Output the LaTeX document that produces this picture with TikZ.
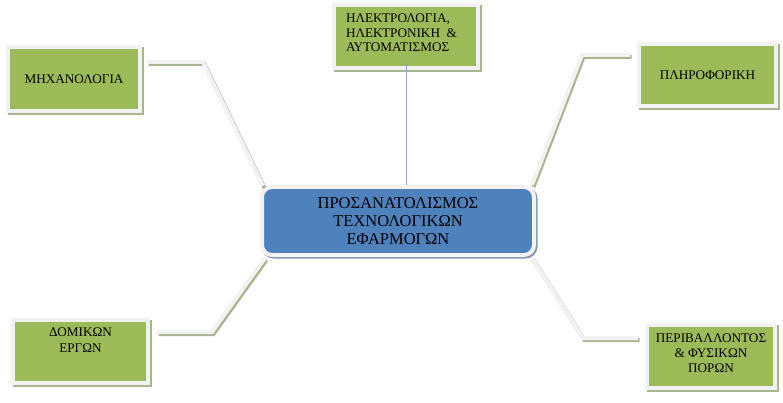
\documentclass[tikz,border=0pt]{standalone}
\usepackage{fontspec}
\setmainfont{Liberation Serif}
\usetikzlibrary{shadows,positioning}
\definecolor{leafgreen}{HTML}{9BBB59}
\definecolor{coreblue}{HTML}{4F81BD}
\definecolor{rimgray}{HTML}{F2F2F2}
\definecolor{leafshade}{HTML}{A9B590}
\definecolor{coreshade}{HTML}{7F93B3}
\definecolor{stemblue}{HTML}{8FA3C5}
\newcommand{\leaffont}{\fontsize{13.2}{15}\selectfont}
\newcommand{\corefont}{\fontsize{16.5}{18}\selectfont}

\begin{document}
\begin{tikzpicture}[x=1pt, y=-1pt,
    leaf/.style={rectangle, fill=leafgreen, draw=rimgray, line width=4pt, inner sep=0pt, font=\leaffont,
      general shadow={fill=leafshade, draw=leafshade, line width=4pt, shadow xshift=2pt, shadow yshift=-2pt}},
    core/.style={rectangle, rounded corners=10pt, fill=coreblue, draw=rimgray, line width=4pt, inner sep=0pt, font=\corefont,
      general shadow={fill=coreshade, draw=coreshade, line width=4pt, shadow xshift=1.5pt, shadow yshift=-1.5pt}},
    branch/.style={draw=rimgray, line width=4pt,
      preaction={draw=leafshade, line width=4pt, transform canvas={shift={(1.5pt,-2pt)}}}}]

      \useasboundingbox (0,0) rectangle (783,403);

      % central box
      \node[core] (core) at (398,221) {\parbox[c][68pt][c]{272pt}{\centering ΠΡΟΣΑΝΑΤΟΛΙΣΜΟΣ\\ ΤΕΧΝΟΛΟΓΙΚΩΝ\\ ΕΦΑΡΜΟΓΩΝ}};

      % the five fields
      \node[leaf] (mech) at (74,79) {\parbox[c][64pt][c]{132pt}{\centering ΜΗΧΑΝΟΛΟΓΙΑ}};
      \node[leaf] (elec) at (406,36.5) {\parbox[c][63pt][t]{144pt}{\vspace*{9pt}\leftskip=12pt\baselineskip=14.3pt ΗΛΕΚΤΡΟΛΟΓΙΑ,\\ ΗΛΕΚΤΡΟΝΙΚΗ \ \&\\ ΑΥΤΟΜΑΤΙΣΜΟΣ}};
      \node[leaf] (info) at (707.5,75) {\parbox[c][62pt][c]{137pt}{\centering ΠΛΗΡΟΦΟΡΙΚΗ}};
      \node[leaf] (build) at (80.5,351.5) {\parbox[c][63pt][t]{135pt}{\vspace*{8pt}\centering\baselineskip=16pt ΔΟΜΙΚΩΝ\\ ΕΡΓΩΝ}};
      \node[leaf] (env) at (711,356.5) {\parbox[c][63pt][t]{128pt}{\vspace*{9pt}\centering ΠΕΡΙΒΑΛΛΟΝΤΟΣ\\ \& ΦΥΣΙΚΩΝ\\ ΠΟΡΩΝ}};

      % bends of the branches
      \coordinate (mech1) at (147,62);
      \coordinate (mech2) at (203,62);
      \coordinate (info1) at (630,55);
      \coordinate (info2) at (582,55);
      \coordinate (build1) at (157,332);
      \coordinate (build2) at (212,332);
      \coordinate (env1) at (583,338);
      \coordinate (env2) at (638,338);

      \draw[branch] (mech1) -- (mech2) -- ([shift={(3,1)}]core.north west);
      \draw[branch] (info1) -- (info2) -- ([shift={(-4,0)}]core.north east);
      \draw[branch] (build1) -- (build2) -- ([shift={(5,1)}]core.south west);
      \draw[branch] ([shift={(-4,1)}]core.south east) -- (env1) -- (env2);

      \draw[stemblue, line width=0.8pt] ([yshift=7]elec.south) -- (elec.south |- core.north);

    \end{tikzpicture}
\end{document}
